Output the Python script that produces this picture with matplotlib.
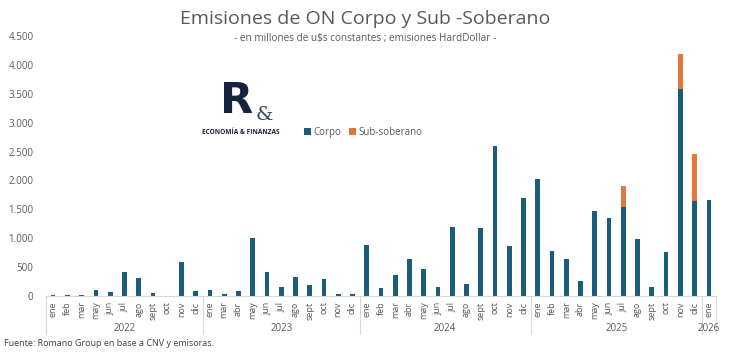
import numpy as np
import matplotlib.pyplot as plt
import matplotlib.transforms as mtransforms

plt.rcParams['font.family'] = ['Open Sans', 'DejaVu Sans']

# datos (millones de u$s)
meses_2022 = ['ene', 'feb', 'mar', 'may', 'jun', 'jul', 'ago', 'sept', 'oct', 'nov', 'dic']
meses_2023 = ['ene', 'mar', 'abr', 'may', 'jun', 'jul', 'ago', 'sept', 'oct', 'nov', 'dic']
meses_2024 = ['ene', 'feb', 'mar', 'abr', 'may', 'jun', 'jul', 'ago', 'sept', 'oct', 'nov', 'dic']
meses_2025 = ['ene', 'feb', 'mar', 'abr', 'may', 'jun', 'jul', 'ago', 'sept', 'oct', 'nov', 'dic']
meses_2026 = ['ene']
anios = ['2022', '2023', '2024', '2025', '2026']

corpo_2022 = [15, 15, 15, 110, 70, 410, 320, 60, 5, 580, 90]
corpo_2023 = [110, 40, 80, 1000, 420, 160, 330, 190, 290, 40, 30]
corpo_2024 = [880, 130, 370, 640, 470, 150, 1200, 200, 1180, 2600, 860, 1700]
corpo_2025 = [2020, 780, 645, 265, 1470, 1355, 1535, 980, 160, 760, 3590, 1645]
corpo_2026 = [1655]

sub_2022 = [0] * 11
sub_2023 = [0] * 11
sub_2024 = [0] * 12
sub_2025 = [0, 0, 0, 0, 0, 0, 375, 0, 0, 0, 605, 805]
sub_2026 = [0]

grupos = [meses_2022, meses_2023, meses_2024, meses_2025, meses_2026]
meses = sum(grupos, [])
corpo = np.array(corpo_2022 + corpo_2023 + corpo_2024 + corpo_2025 + corpo_2026)
sub = np.array(sub_2022 + sub_2023 + sub_2024 + sub_2025 + sub_2026)
x = np.arange(len(meses))

c_corpo = '#1b5b7c'
c_sub = '#e3763a'
gris = '#595959'
navy = '#15233f'

fig = plt.figure(figsize=(7.3, 3.57), dpi=100)
ax = fig.add_axes([46 / 730, 61 / 357, 670 / 730, 260 / 357])

ax.bar(x, corpo, width=0.33, color=c_corpo, label='Corpo', zorder=2)
ax.bar(x, sub, width=0.33, bottom=corpo, color=c_sub, label='Sub-soberano', zorder=2)

ax.set_xlim(-0.5, len(meses) - 0.5)
ax.set_ylim(0, 4500)
ax.set_yticks(np.arange(0, 4501, 500))
ax.set_yticklabels([f'{v:,}'.replace(',', '.') for v in range(0, 4501, 500)],
                   fontsize=7, color=gris)
ax.tick_params(axis='y', length=0, pad=9)

ax.set_xticks(x)
ax.set_xticklabels(meses, rotation=90, fontsize=6.5, color=gris)
ax.tick_params(axis='x', length=0, pad=4)

for s in ['top', 'right', 'left']:
    ax.spines[s].set_visible(False)
ax.spines['bottom'].set_color('#d9d9d9')

# separadores de años y etiquetas
trans = mtransforms.blended_transform_factory(ax.transData, ax.transAxes)
inicio = 0
bordes = [-0.5]
for g, anio in zip(grupos, anios):
    fin = inicio + len(g)
    bordes.append(fin - 0.5)
    ax.text((inicio + fin - 1) / 2, -0.125, anio, transform=trans, ha='center', va='center',
            fontsize=7, color=gris)
    inicio = fin
for b in bordes:
    ax.plot([b, b], [0, -0.145], transform=trans, color='#d9d9d9', lw=0.8, clip_on=False)

ax.legend(loc='center left', bbox_to_anchor=(253 / 670, 164 / 260), ncol=2, frameon=False,
          fontsize=7, handlelength=0.7, handleheight=0.7, handletextpad=0.3,
          columnspacing=0.8, labelcolor=gris, borderpad=0)

# titulo
fig.text(0.5, 0.948, 'Emisiones de ON Corpo y Sub -Soberano', ha='center', va='center',
         fontsize=14, color=gris)
fig.text(0.5, 0.892, '- en millones de u$s constantes ; emisiones HardDollar -', ha='center',
         va='center', fontsize=7.2, color=gris)

# logo
fig.text(237 / 730, 1 - 101 / 357, 'R', ha='center', va='center', fontsize=31,
         fontweight='heavy', color=navy, family='DejaVu Sans')
fig.text(264 / 730, 1 - 115 / 357, '&', ha='center', va='center', fontsize=14,
         color='#3a4660', family='DejaVu Serif')
fig.text(241 / 730, 1 - 132 / 357, 'ECONOMÍA & FINANZAS', ha='center', va='center',
         fontsize=4.7, fontweight='bold', color=navy)

fig.text(4 / 730, 1 - 344 / 357, 'Fuente: Romano Group en base a CNV y emisoras.',
         ha='left', va='center', fontsize=6.5, color='#404040')

fig.savefig('out.png', dpi=100, facecolor='white')
